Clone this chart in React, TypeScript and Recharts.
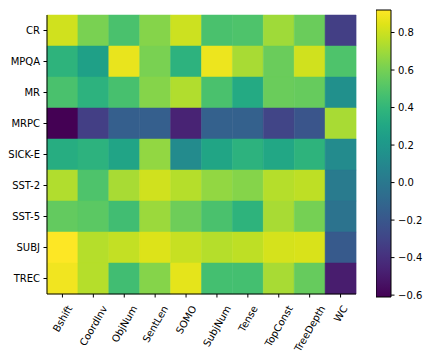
import React from "react";
import { BarChart, Bar, XAxis, YAxis, Cell } from "recharts";

// row / column labels of the correlation heatmap
const rows = ["CR", "MPQA", "MR", "MRPC", "SICK-E", "SST-2", "SST-5", "SUBJ", "TREC"];
const cols = ["Bshift", "CoordInv", "ObjNum", "SentLen", "SOMO", "SubjNum", "Tense", "TopConst", "TreeDepth", "WC"];

const cr = [0.81, 0.61, 0.48, 0.64, 0.8, 0.48, 0.49, 0.7, 0.57, -0.33];
const mpqa = [0.38, 0.26, 0.87, 0.61, 0.37, 0.88, 0.72, 0.57, 0.81, 0.49];
const mr = [0.48, 0.37, 0.47, 0.64, 0.74, 0.48, 0.32, 0.57, 0.56, 0.15];
const mrpc = [-0.61, -0.33, -0.15, -0.15, -0.46, -0.14, -0.14, -0.3, -0.21, 0.72];
const sickE = [0.34, 0.37, 0.28, 0.67, 0.12, 0.29, 0.37, 0.3, 0.38, 0.12];
const sst2 = [0.74, 0.49, 0.72, 0.81, 0.75, 0.67, 0.64, 0.75, 0.77, 0.02];
const sst5 = [0.55, 0.53, 0.45, 0.69, 0.58, 0.48, 0.38, 0.72, 0.6, -0.03];
const subj = [0.92, 0.75, 0.78, 0.84, 0.79, 0.75, 0.77, 0.82, 0.83, -0.18];
const trec = [0.89, 0.75, 0.45, 0.64, 0.86, 0.46, 0.46, 0.72, 0.56, -0.49];
const values = [cr, mpqa, mr, mrpc, sickE, sst2, sst5, subj, trec];

const vmin = -0.61;
const vmax = 0.92;
const cbTicks = [-0.6, -0.4, -0.2, 0, 0.2, 0.4, 0.6, 0.8];

// viridis anchors, every 0.05
const viridisStops = [
  "#440154", "#471365", "#482475", "#463480", "#414487", "#3b528b", "#355f8d",
  "#2f6c8e", "#2a788e", "#25848e", "#21918c", "#1e9c89", "#22a884", "#2fb47c",
  "#44bf70", "#5ec962", "#7ad151", "#9bd93c", "#bddf26", "#dfe318", "#fde725",
];

const hex = (s: string) => [1, 3, 5].map((i) => parseInt(s.slice(i, i + 2), 16));

const viridis = (v: number) => {
  const t = Math.max(0, Math.min(1, (v - vmin) / (vmax - vmin)));
  const p = t * (viridisStops.length - 1);
  const i = Math.min(Math.floor(p), viridisStops.length - 2);
  const f = p - i;
  const a = hex(viridisStops[i]);
  const b = hex(viridisStops[i + 1]);
  const c = a.map((x, k) => Math.round(x + (b[k] - x) * f));
  return `rgb(${c[0]},${c[1]},${c[2]})`;
};

const font = "DejaVu Sans";

const cells = cols.map((c) => {
  const d: Record<string, any> = { name: c };
  rows.forEach((_, i) => (d["r" + i] = 1));
  return d;
});

const cbData = [{ name: "cb", range: [vmin, vmax] }];

let ctx: CanvasRenderingContext2D | null = null;
const measure = (s: string) => {
  if (!ctx) ctx = document.createElement("canvas").getContext("2d");
  if (!ctx) return s.length * 6;
  ctx.font = `10px "${font}"`;
  return ctx.measureText(s).width;
};

// matplotlib style rotated label: bbox centred on the tick
const XTick = (props: any) => {
  const { x, y, payload } = props;
  const L = measure(payload.value);
  const a = 7.3;
  const xe = x + 0.25 * L + 0.433 * a;
  const ye = y + 7 + 0.5 * a;
  return (
    <text
      x={xe}
      y={ye}
      transform={`rotate(-60 ${xe} ${ye})`}
      textAnchor="end"
      fontSize={10}
      fontFamily={font}
      fill="#000"
    >
      {payload.value}
    </text>
  );
};

const fmt = (v: number) => (v < 0 ? "\u2212" + Math.abs(v).toFixed(1) : v.toFixed(1));

export default function App() {
  return (
    <div style={{ position: "absolute", left: 0, top: 0, width: 434, height: 360, background: "#fff" }}>
      <div style={{ position: "absolute", left: 0, top: 0 }}>
        <BarChart
          width={434}
          height={360}
          data={cells}
          margin={{ top: 15, right: 78, bottom: 0, left: 0 }}
          barCategoryGap={0}
          barGap={0}
        >
          <XAxis
            dataKey="name"
            height={66}
            interval={0}
            tick={<XTick />}
            tickSize={3.5}
            tickMargin={0}
            tickLine={{ stroke: "#000" }}
            axisLine={{ stroke: "#000" }}
          />
          <XAxis xAxisId="top" dataKey="name" orientation="top" height={0} tick={false} tickLine={false} axisLine={{ stroke: "#000" }} />
          <YAxis
            type="number"
            domain={[0, 9]}
            reversed
            width={47}
            ticks={rows.map((_, i) => i + 0.5)}
            tickFormatter={(v: number) => rows[Math.floor(v)]}
            interval={0}
            tickSize={3.5}
            tickMargin={3.5}
            tick={{ fontSize: 10, fontFamily: font, fill: "#000" }}
            tickLine={{ stroke: "#000" }}
            axisLine={{ stroke: "#000" }}
          />
          <YAxis yAxisId="right" orientation="right" type="number" domain={[0, 9]} width={0} tick={false} tickLine={false} axisLine={{ stroke: "#000" }} />
          {rows.map((r, i) => (
            <Bar key={r} dataKey={"r" + i} stackId="a" isAnimationActive={false}>
              {cols.map((c, j) => (
                <Cell key={c} fill={viridis(values[i][j])} stroke={viridis(values[i][j])} strokeWidth={0.5} />
              ))}
            </Bar>
          ))}
        </BarChart>
      </div>
      <div style={{ position: "absolute", left: 376, top: 0 }}>
        <BarChart
          width={58}
          height={360}
          data={cbData}
          margin={{ top: 10, right: 0, bottom: 63, left: 0 }}
          barCategoryGap={0}
        >
          <defs>
            <linearGradient id="viridis" x1="0" y1="1" x2="0" y2="0">
              {viridisStops.map((s, i) => (
                <stop key={i} offset={i / (viridisStops.length - 1)} stopColor={s} />
              ))}
            </linearGradient>
          </defs>
          <XAxis dataKey="name" hide />
          <YAxis
            type="number"
            orientation="right"
            domain={[vmin, vmax]}
            ticks={cbTicks}
            tickFormatter={fmt}
            width={43}
            interval={0}
            tickSize={3.5}
            tickMargin={3.5}
            tick={{ fontSize: 10, fontFamily: font, fill: "#000", textAnchor: "start" }}
            tickLine={{ stroke: "#000" }}
            axisLine={false}
          />
          <Bar dataKey="range" fill="url(#viridis)" stroke="#000" strokeWidth={1} isAnimationActive={false} />
        </BarChart>
      </div>
    </div>
  );
}
